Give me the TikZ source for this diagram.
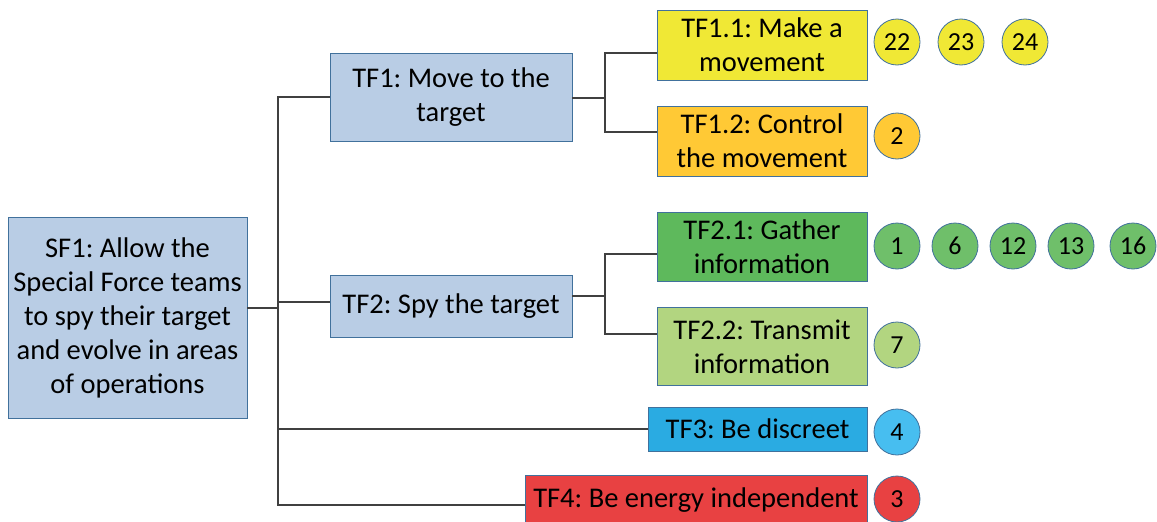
\documentclass[tikz,border=0pt]{standalone}
\usepackage{fontspec}
\setmainfont{Carlito}
\frenchspacing
\definecolor{bluef}{HTML}{B9CDE5}
\definecolor{blued}{HTML}{41719C}
\definecolor{yel}{HTML}{F0E835}
\definecolor{ora}{HTML}{FFC935}
\definecolor{grn}{HTML}{5EB95C}
\definecolor{grnc}{HTML}{6FBF6A}
\definecolor{lgrn}{HTML}{B2D580}
\definecolor{cya}{HTML}{2AABE2}
\definecolor{cyac}{HTML}{47BEF0}
\definecolor{redd}{HTML}{E84142}
\definecolor{conncol}{HTML}{404040}
\tikzset{
  box/.style={draw=blued, line width=0.9pt, inner sep=0pt, align=center,
    font=\fontsize{28.5}{34}\selectfont\frenchspacing},
  circ/.style={circle, draw=blued, line width=0.8pt, minimum size=46pt, inner sep=0pt,
    font=\fontsize{26}{28}\selectfont},
  conn/.style={draw=conncol, line width=1.8pt},
}
\begin{document}
\begin{tikzpicture}[x=1pt,y=-1pt]
\useasboundingbox (0,0) rectangle (1157,522);
\clip (0,0) rectangle (1157,522);
\node[box, fill=bluef, minimum width=239pt, minimum height=201pt] (sf1) at (127.5,317.5)
  {SF1: Allow the\\Special Force teams\\to spy their target\\and evolve in areas\\of operations};
\node[box, fill=bluef, minimum width=242pt, minimum height=88pt] (tf1) at (451,97) {TF1: Move to the\\target};
\node[box, fill=bluef, minimum width=242pt, minimum height=62pt] (tf2) at (451,306) {TF2: Spy the target};
\node[box, fill=yel, minimum width=210pt, minimum height=70pt] (tf11) at (762,45) {TF1.1: Make a\\movement};
\node[box, fill=ora, minimum width=210pt, minimum height=70pt] (tf12) at (762,141) {TF1.2: Control\\the movement};
\node[box, fill=grn, minimum width=210pt, minimum height=69pt] (tf21) at (762,246.5) {TF2.1: Gather\\information};
\node[box, fill=lgrn, minimum width=210pt, minimum height=78pt] (tf22) at (762,346.5) {TF2.2: Transmit\\information};
\node[box, fill=cya, minimum width=219pt, minimum height=44pt] (tf3) at (757.5,429) {TF3: Be discreet};
\node[box, fill=redd, minimum width=342pt, minimum height=50pt] (tf4) at (696,500) {TF4: Be energy independent};

\node[circ, fill=yel] (c22) at (897,42) {22};
\node[circ, fill=yel] (c23) at (961,42) {23};
\node[circ, fill=yel] (c24) at (1025,42) {24};
\node[circ, fill=ora] (c2) at (897,136) {2};
\node[circ, fill=grnc] (c1) at (897,246) {1};
\node[circ, fill=grnc] (c6) at (955,246) {6};
\node[circ, fill=grnc] (c12) at (1013,246) {12};
\node[circ, fill=grnc] (c13) at (1071,246) {13};
\node[circ, fill=grnc] (c16) at (1133,246) {16};
\node[circ, fill=lgrn] (c7) at (897,345) {7};
\node[circ, fill=cyac] (c4) at (897,432) {4};
\node[circ, fill=redd] (c3) at (897,499) {3};

\coordinate (ja) at (278,308);
\coordinate (jb) at (605,98);
\coordinate (jc) at (605,296);
\draw[conn] ([yshift=9.5pt]sf1.east) -- (ja);
\draw[conn] (tf1.west) -| (ja) |- ([yshift=-5pt]tf4.west);
\draw[conn] ([yshift=4pt]tf2.west) -| (ja);
\draw[conn] (tf3.west) -| (ja);
\draw[conn] ([yshift=-1pt]tf1.east) -- (jb);
\draw[conn] ([yshift=-8pt]tf11.west) -| (jb) |- ([yshift=9pt]tf12.west);
\draw[conn] ([yshift=10pt]tf2.east) -- (jc);
\draw[conn] ([yshift=-7.5pt]tf21.west) -| (jc) |- ([yshift=12.5pt]tf22.west);
\end{tikzpicture}
\end{document}
